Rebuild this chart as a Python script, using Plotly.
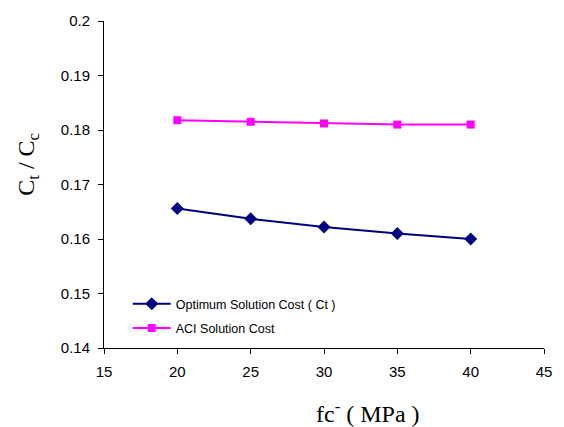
import plotly.graph_objects as go

fc = [20, 25, 30, 35, 40]
optimum_cost = [0.1656, 0.1637, 0.1622, 0.1610, 0.1600]
aci_cost = [0.1818, 0.1815, 0.1812, 0.1810, 0.1810]
y_ticks = [0.14, 0.15, 0.16, 0.17, 0.18, 0.19, 0.2]
y_tick_text = ["0.14", "0.15", "0.16", "0.17", "0.18", "0.19", "0.2"]
x_ticks = [15, 20, 25, 30, 35, 40, 45]

fig = go.Figure()
fig.add_trace(go.Scatter(
    x=fc, y=optimum_cost, mode="lines+markers", name="Optimum Solution Cost ( Ct )",
    legendgroup="a",
    line=dict(color="#000080", width=2),
    marker=dict(symbol="diamond", size=10, color="#000080"),
))
fig.add_trace(go.Scatter(
    x=fc, y=aci_cost, mode="lines+markers", name="ACI Solution Cost",
    legendgroup="b",
    line=dict(color="#FF00FF", width=2),
    marker=dict(symbol="square", size=8, color="#FF00FF"),
))

fig.update_layout(
    width=564, height=427,
    margin=dict(l=104, r=15, t=16, b=79),
    paper_bgcolor="white", plot_bgcolor="white",
    font=dict(family="Arial, Liberation Sans", size=15, color="black"),
    showlegend=True,
    legend=dict(x=0.054, y=0.18, xanchor="left", yanchor="top",
                bgcolor="rgba(0,0,0,0)", font=dict(size=12.5),
                traceorder="grouped", tracegroupgap=5, itemwidth=38),
    xaxis=dict(range=[15, 45], tickvals=x_ticks, showgrid=False, zeroline=False,
               showline=True, linecolor="black", linewidth=1,
               ticks="outside", ticklen=5, tickcolor="black",
               ticklabelstandoff=5),
    yaxis=dict(range=[0.14, 0.2], tickvals=y_ticks, ticktext=y_tick_text,
               showgrid=False, zeroline=False,
               showline=True, linecolor="black", linewidth=1,
               ticks="outside", ticklen=5, tickcolor="black",
               ticklabelstandoff=5),
    annotations=[
        dict(text="fc<sup>-</sup> ( MPa )", xref="paper", yref="paper",
             x=0.6, y=-0.196, xanchor="center", yanchor="middle",
             showarrow=False, font=dict(family="Times New Roman, Liberation Serif", size=24)),
        dict(text="C<sub>t</sub> / C<sub>c</sub>", xref="paper", yref="paper",
             x=-0.173, y=0.563, xanchor="center", yanchor="middle",
             textangle=-90, showarrow=False,
             font=dict(family="Times New Roman, Liberation Serif", size=24)),
    ],
)

fig.write_html("out.html", config={"displayModeBar": False},
               post_script="document.body.style.margin='0';")
